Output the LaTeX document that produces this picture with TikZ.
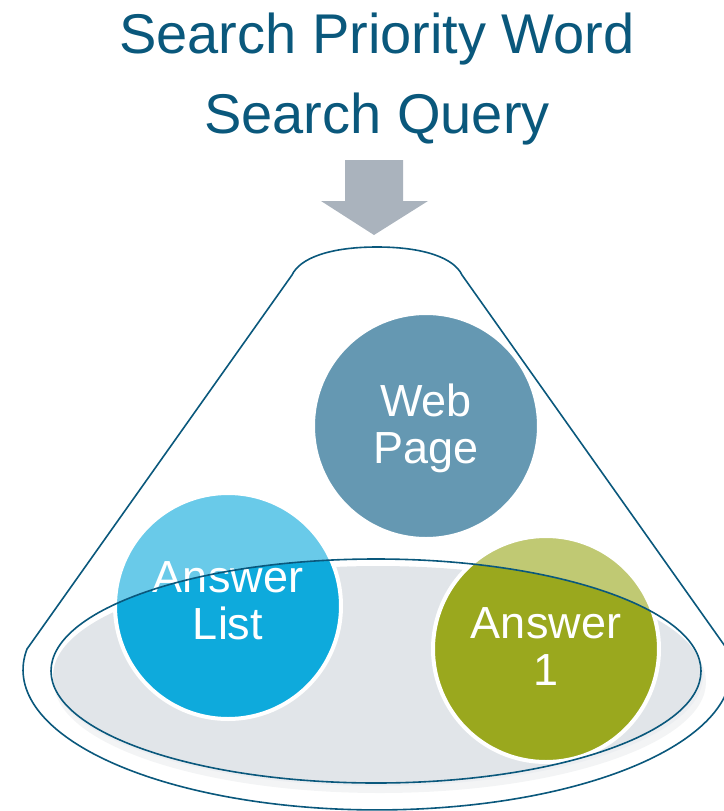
\documentclass[tikz,border=0pt]{standalone}
\usepackage{fontspec}
\setmainfont{Liberation Sans}
\definecolor{tealdark}{RGB}{10,88,124}
\definecolor{arrowgray}{RGB}{170,179,189}
\definecolor{basegray}{RGB}{225,229,233}
\definecolor{shadowgray}{RGB}{236,238,240}
\definecolor{cweb}{RGB}{8,90,132}
\definecolor{clist}{RGB}{14,170,220}
\definecolor{cans}{RGB}{154,168,30}
\tikzset{
  bubble/.style={circle, minimum size=169.5pt, inner sep=0pt, outer sep=0pt, draw=white, line width=3pt},
  bubbletext/.style={text=white, align=center, font=\fontsize{33.75}{35.25}\selectfont, inner sep=0pt},
  titletext/.style={text=tealdark, font=\fontsize{42}{50}\selectfont, inner sep=0pt, anchor=base},
  outline/.style={draw=tealdark, line width=1.2pt, line join=round}
}
\begin{document}
\begin{tikzpicture}[x=0.75pt, y=-0.75pt]
\useasboundingbox (0,0) rectangle (724,811);
% base plate
\fill[shadowgray] (380,682) ellipse[x radius=326, y radius=111];
\fill[basegray] (378,676) ellipse[x radius=325, y radius=110];
% bubbles
\node[bubble, fill=cweb] (web) at (426,426) {};
\node[bubble, fill=clist] (list) at (228,606) {};
\node[bubble, fill=cans] (ans) at (546,649) {};
% translucent funnel body
\fill[white, opacity=0.38, even odd rule]
  (27,649) -- (292,275) .. controls (300,258) and (330,247) .. (377,247)
  .. controls (424,247) and (454,258) .. (462,275) -- (727,649)
  arc[start angle=-8.6, end angle=188.6, x radius=354, y radius=140] -- cycle
  (376,671) ellipse[x radius=325, y radius=112];
% bubble labels
\node[bubbletext] (webt) at (426,428) {Web\\Page};
\node[bubbletext] (listt) at (228,601) {Answer\\List};
\node[bubbletext] (anst) at (546,647) {Answer\\1};
% funnel outlines
\draw[outline]
  (27,649) -- (292,275) .. controls (300,258) and (330,247) .. (377,247)
  .. controls (424,247) and (454,258) .. (462,275) -- (727,649)
  arc[start angle=-8.6, end angle=188.6, x radius=354, y radius=140] -- cycle;
\draw[outline] (376,671) ellipse[x radius=325, y radius=112];
% title
\node[titletext] (t1) at (377,53) {Search Priority Word};
\node[titletext] (t2) at (377,133) {Search Query};
% arrow
\fill[arrowgray] (345,160) -- (403,160) -- (403,201) -- (428,201) -- (374,235) -- (321,201) -- (345,201) -- cycle;
\end{tikzpicture}
\end{document}
